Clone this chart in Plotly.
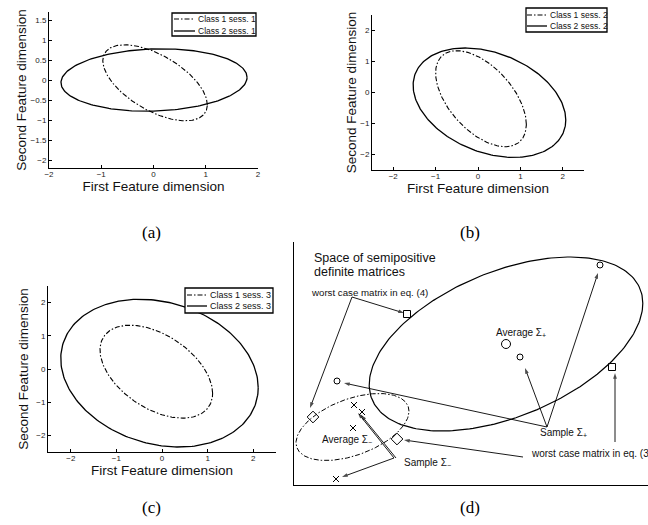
import numpy as np
import plotly.graph_objects as go

# ---------------- data ----------------
# Panels (a)-(c): covariance ellipses per class & session
# mean = [mx, my]; cov = [var_x, cov_xy, var_y]
session_names = ["sess. 1", "sess. 2", "sess. 3"]
class_names = ["Class 1", "Class 2"]
class1_mean = [[0.03, -0.07], [0.07, -0.20], [-0.125, -0.08]]
class1_cov = [[1.00, -0.551, 0.9025], [1.145, -0.884, 2.40], [1.525, -0.805, 1.96]]
class2_mean = [[0.01, 0.00], [0.27, -0.33], [-0.055, -0.125]]
class2_cov = [[3.17, 0.117, 0.608], [3.24, -1.006, 3.115], [4.687, -0.946, 4.95]]

a_yticks = [-2, -1.5, -1, -0.5, 0, 0.5, 1, 1.5]
a_xticks = [-2, -1, 0, 1, 2]
bc_ticks = [-2, -1, 0, 1, 2]
panel_letters = ["(a)", "(b)", "(c)", "(d)"]

# Panel (d): schematic space of semipositive definite matrices
pos_mean = [212, 141]
pos_cov = [18714, 5568, 7569]
neg_mean = [58.5, 58]
neg_cov = [3192, 888, 1122]
pos_sample_x = [306, 226, 43]
pos_sample_y = [220, 128, 104]
pos_avg_x = [212]
pos_avg_y = [141]
neg_sample_x = [60, 68, 42]
neg_sample_y = [80, 73, 6]
neg_avg_x = [59]
neg_avg_y = [57]
worst_pos_x = [113, 318]      # squares
worst_pos_y = [171, 118]
worst_neg_x = [19, 103]       # diamonds
worst_neg_y = [68, 46]

# arrows: (tail_x, tail_y, tip_x, tip_y)
arrows_d = [
    (58, 188, 110, 172), (58, 188, 16, 77),          # worst case eq. (4)
    (253, 58, 304, 212), (253, 58, 231, 117), (253, 58, 50, 102),  # Sample Σ+
    (321, 43, 321, 112), (229, 28, 110, 45),         # worst case eq. (3)
    (100, 27, 64, 72), (102, 27, 67, 70), (100, 27, 48, 8),        # Sample Σ-
]
# texts: (x, y, text, size)
texts_d = [
    (18, 227, "Space of semipositive", 12.5),
    (18, 213, "definite matrices", 12.5),
    (15, 193, "worst case matrix in eq. (4)", 9.7),
    (200, 152, "Average Σ<sub>+</sub>", 10),
    (244, 52, "Sample Σ<sub>+</sub>", 10),
    (235, 32, "worst case matrix in eq. (3)", 10),
    (26, 45, "Average Σ<sub>−</sub>", 10),
    (108, 22, "Sample Σ<sub>−</sub>", 10),
]


def ellipse(mean, cov, n=240):
    sxx, sxy, syy = cov
    l11 = np.sqrt(sxx)
    l21 = sxy / l11
    l22 = np.sqrt(syy - l21 ** 2)
    t = np.linspace(0, 2 * np.pi, n)
    return mean[0] + l11 * np.cos(t), mean[1] + l21 * np.cos(t) + l22 * np.sin(t)


W, H = 648, 525
SANS = "Liberation Sans, Arial, Helvetica, sans-serif"
SERIF = "Liberation Serif, Times New Roman, serif"
DASH = "5px,2px,1.5px,2px"
STYLE = [dict(color="black", width=1.1, dash=DASH), dict(color="black", width=1.3)]

fig = go.Figure()

for i in range(3):
    ax = "" if i == 0 else str(i + 1)
    for k, (m, c) in enumerate([(class1_mean[i], class1_cov[i]), (class2_mean[i], class2_cov[i])]):
        ex, ey = ellipse(m, c)
        fig.add_trace(go.Scatter(x=ex, y=ey, mode="lines",
                                 name=class_names[k] + " " + session_names[i],
                                 line=STYLE[k], xaxis="x" + ax, yaxis="y" + ax, showlegend=False))

# panel (d)
xp, yp = ellipse(pos_mean, pos_cov)
xn, yn = ellipse(neg_mean, neg_cov)
fig.add_trace(go.Scatter(x=xp, y=yp, mode="lines", line=dict(color="black", width=1.2),
                         xaxis="x4", yaxis="y4", showlegend=False))
fig.add_trace(go.Scatter(x=xn, y=yn, mode="lines", line=dict(color="black", width=1, dash=DASH),
                         xaxis="x4", yaxis="y4", showlegend=False))

# arrows as line traces ending in an arrow marker
for (tx, ty, hx, hy) in arrows_d:
    fig.add_trace(go.Scatter(x=[tx, hx], y=[ty, hy], mode="lines+markers", xaxis="x4", yaxis="y4",
                             showlegend=False, line=dict(color="black", width=0.9),
                             marker=dict(symbol="arrow", size=[0, 6], angleref="previous",
                                         color="black", line=dict(width=0))))


def mk(x, y, sym, size):
    fig.add_trace(go.Scatter(x=x, y=y, mode="markers", xaxis="x4", yaxis="y4", showlegend=False,
                             marker=dict(symbol=sym, size=size, color="black",
                                         line=dict(color="black", width=1))))


mk(pos_sample_x, pos_sample_y, "circle-open", 6)
mk(pos_avg_x, pos_avg_y, "circle-open", 9)
mk(worst_pos_x, worst_pos_y, "square-open", 7)
mk(worst_neg_x, worst_neg_y, "diamond-open", 9)
mk(neg_sample_x, neg_sample_y, "x-thin-open", 6)
mk(neg_avg_x, neg_avg_y, "x-thin-open", 6)

annotations = []
shapes = []
for (tx, ty, txt, sz) in texts_d:
    annotations.append(dict(x=tx, y=ty, xref="x4", yref="y4", text=txt, showarrow=False,
                            xanchor="left", yanchor="middle", font=dict(family=SANS, size=sz, color="#111")))

# panel letters
letter_pos = [(151, 232), (470, 232), (151, 507), (470, 507)]
for lt, (px, py) in zip(panel_letters, letter_pos):
    annotations.append(dict(x=px / W, y=1 - py / H, xref="paper", yref="paper", text=lt,
                            showarrow=False, xanchor="center", yanchor="middle",
                            font=dict(family=SERIF, size=17, color="black")))

# legends (boxed, upper right of each feature panel), drawn from the trace names
# box: (left, top, right, bottom) px; sample line x0,x1; row y; font size
legend_boxes = [
    ((172, 13, 256, 36), (174, 195), (19, 31), 8.5),
    ((526, 8, 607, 32), (527, 547), (15, 26), 8.5),
    ((185, 288, 273, 313), (187, 207), (295, 306), 9.0),
]
for i, ((l, t, r, b), (sx0, sx1), rows, fsz) in enumerate(legend_boxes):
    shapes.append(dict(type="rect", xref="paper", yref="paper", x0=l / W, x1=r / W,
                       y0=1 - b / H, y1=1 - t / H, line=dict(color="black", width=1.3),
                       fillcolor="white", layer="above"))
    for k in range(2):
        tr = fig.data[2 * i + k]
        ry = 1 - rows[k] / H
        shapes.append(dict(type="line", xref="paper", yref="paper", x0=sx0 / W, x1=sx1 / W,
                           y0=ry, y1=ry, line=dict(color="black", width=tr.line.width,
                                                   dash=tr.line.dash or "solid"), layer="above"))
        annotations.append(dict(x=(sx1 + 1) / W, y=ry, xref="paper", yref="paper", text=tr.name,
                                showarrow=False, xanchor="left", yanchor="middle",
                                font=dict(family=SANS, size=fsz, color="#111")))


def px_dom(a, b):
    return [a / W, b / W]


def py_dom(top, bottom):
    return [1 - bottom / H, 1 - top / H]


tickfont = dict(family=SANS, size=8, color="#222")
titlefont = dict(family=SANS, size=13.5, color="#111")


def feat_axes(xdom, ydom, xr, yr, xt, yt, xstand, ystand, anchor_x, anchor_y):
    common = dict(showline=True, linecolor="black", linewidth=1, ticks="inside", ticklen=3,
                  tickcolor="black", showgrid=False, zeroline=False, tickfont=tickfont,
                  automargin=False)
    xa = dict(domain=xdom, range=xr, tickvals=xt, anchor=anchor_y, ticklabelstandoff=-2,
              title=dict(text="First Feature dimension", font=titlefont, standoff=xstand), **common)
    ya = dict(domain=ydom, range=yr, tickvals=yt, anchor=anchor_x,
              title=dict(text="Second Feature dimension", font=titlefont, standoff=ystand), **common)
    return xa, ya


xa1, ya1 = feat_axes(px_dom(49, 258), py_dom(12, 168), [-2, 2], [-2.2, 1.7],
                     a_xticks, a_yticks, 2, 0, "x", "y")
xa2, ya2 = feat_axes(px_dom(372, 584), py_dom(15, 170), [-2.5, 2.5], [-2.5, 2.5],
                     bc_ticks, bc_ticks, 2, 0, "x2", "y2")
xa3, ya3 = feat_axes(px_dom(48, 276), py_dom(286, 452), [-2.5, 2.5], [-2.5, 2.5],
                     bc_ticks, bc_ticks, 2, 4, "x3", "y3")

xa4 = dict(domain=px_dom(294, 648), range=[0, 354], showline=True, linecolor="black", linewidth=1.2,
           showticklabels=False, ticks="", showgrid=False, zeroline=False, anchor="y4", automargin=False)
ya4 = dict(domain=py_dom(242, 485), range=[0, 243], showline=True, linecolor="black", linewidth=1.2,
           showticklabels=False, ticks="", showgrid=False, zeroline=False, anchor="x4", automargin=False)

fig.update_layout(
    width=W, height=H, margin=dict(l=0, r=0, t=0, b=0, pad=0),
    paper_bgcolor="white", plot_bgcolor="white",
    xaxis=xa1, yaxis=ya1, xaxis2=xa2, yaxis2=ya2, xaxis3=xa3, yaxis3=ya3, xaxis4=xa4, yaxis4=ya4,
    annotations=annotations, shapes=shapes,
    showlegend=False,
)

fig.write_html("out.html", config={"staticPlot": True, "displayModeBar": False},
               post_script="document.body.style.margin='0px';")
